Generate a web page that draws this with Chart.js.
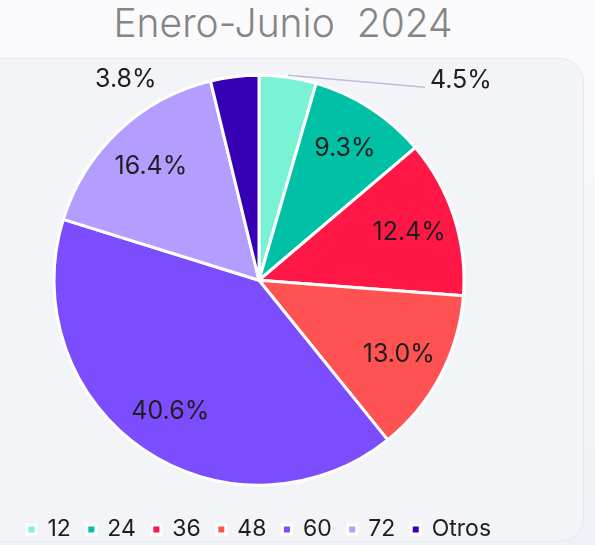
<!DOCTYPE html>
<html>
<head>
<meta charset="utf-8">
<script src="https://cdn.jsdelivr.net/npm/chart.js@4"></script>
<style>
  html, body { margin: 0; padding: 0; overflow: hidden; }
  body { width: 595px; height: 545px; background: linear-gradient(#fbfbfd, #eef1f5); position: relative; }
  .panel {
    position: absolute; left: -24px; top: 58px; width: 606px; height: 482px;
    background: #f2f4f8; border: 1px solid #e6e9f0; border-radius: 24px;
  }
  .title {
    position: absolute; left: 0; width: 566px; top: 1px; text-align: center;
    font-family: Inter, "Noto Sans", sans-serif; font-weight: 300; font-size: 39px;
    color: #858585; line-height: 44px; white-space: pre;
  }
  .wrap { position: absolute; left: 0; top: 0; width: 595px; height: 545px; overflow: hidden; }
</style>
</head>
<body>
<div class="panel"></div>
<div class="title">Enero-Junio  2024</div>
<div class="wrap"><canvas id="pie" width="595" height="551"></canvas></div>
<script>
const categories = ['12', '24', '36', '48', '60', '72', 'Otros'];
const shares = [4.5, 9.3, 12.4, 13.0, 40.6, 16.4, 3.8];
const colors = ['#7af2d5', '#00c0a6', '#ff1745', '#ff5252', '#7c4dff', '#b39dff', '#3700b3'];

const FONT = 'Inter, "Noto Sans", sans-serif';

// percentage labels: inside for big slices, outside for the small ones
const pctLabels = {
  id: 'pctLabels',
  afterDatasetsDraw(chart) {
    const ctx = chart.ctx;
    const meta = chart.getDatasetMeta(0);
    ctx.save();
    ctx.font = '25px ' + FONT;
    ctx.fillStyle = '#1e1e1e';
    ctx.textBaseline = 'middle';
    meta.data.forEach((arc, i) => {
      const p = arc.getProps(['x', 'y', 'startAngle', 'endAngle', 'outerRadius'], true);
      const mid = (p.startAngle + p.endAngle) / 2;
      const txt = shares[i].toFixed(1) + '%';
      if (shares[i] >= 5) {
        const r = p.outerRadius * 0.77;
        ctx.textAlign = 'center';
        ctx.fillText(txt, p.x + Math.cos(mid) * r, p.y + Math.sin(mid) * r + 1);
      } else {
        const ex = p.x + Math.cos(mid) * p.outerRadius;
        const ey = p.y + Math.sin(mid) * p.outerRadius;
        if (Math.cos(mid) >= 0) {
          ctx.strokeStyle = '#b9bfd3';
          ctx.lineWidth = 1.5;
          ctx.beginPath();
          ctx.moveTo(ex, ey - 2);
          ctx.lineTo(ex + 137, ey + 10);
          ctx.stroke();
          ctx.textAlign = 'left';
          ctx.fillText(txt, ex + 142, ey + 3);
        } else {
          ctx.textAlign = 'right';
          ctx.fillText(txt, ex - 78, ey + 3);
        }
      }
    });
    ctx.restore();
  }
};

new Chart(document.getElementById('pie'), {
  type: 'pie',
  data: {
    labels: categories,
    datasets: [{
      data: shares,
      backgroundColor: colors,
      borderColor: '#ffffff',
      borderWidth: 3,
      radius: 205
    }]
  },
  options: {
    responsive: false,
    animation: false,
    layout: { padding: { left: 0, right: 77, top: 58.5, bottom: 0 } },
    plugins: {
      legend: {
        position: 'bottom',
        labels: {
          boxWidth: 9,
          boxHeight: 9,
          padding: 16,
          color: '#1e1e1e',
          font: { family: FONT, size: 23 }
        }
      },
      tooltip: { enabled: false }
    }
  },
  plugins: [pctLabels]
});
</script>
</body>
</html>
